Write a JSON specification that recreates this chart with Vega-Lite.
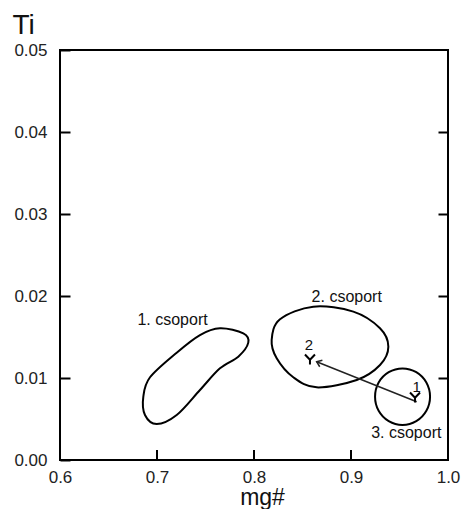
{
  "$schema": "https://vega.github.io/schema/vega-lite/v6.json",
  "width": 388,
  "height": 410,
  "autosize": {"type": "none"},
  "padding": {"left": 60, "top": 50, "right": 14, "bottom": 49},
  "background": "white",
  "config": {
    "view": {"stroke": "#000", "strokeWidth": 2},
    "font": "Liberation Sans",
    "axis": {"grid": false, "domain": false, "labelFont": "Liberation Sans", "titleFont": "Liberation Sans", "labelColor": "#222", "titleColor": "#111", "tickColor": "#000", "tickWidth": 2, "titleFontWeight": "normal"}
  },
  "datasets": {
    "outlines": [
      {"group": "1", "order": 1, "x": 0.7649, "y": 0.01606},
      {"group": "1", "order": 2, "x": 0.7890, "y": 0.01545},
      {"group": "1", "order": 3, "x": 0.7941, "y": 0.01431},
      {"group": "1", "order": 4, "x": 0.7838, "y": 0.01260},
      {"group": "1", "order": 5, "x": 0.7649, "y": 0.01118},
      {"group": "1", "order": 6, "x": 0.7443, "y": 0.00854},
      {"group": "1", "order": 7, "x": 0.7203, "y": 0.00549},
      {"group": "1", "order": 8, "x": 0.6997, "y": 0.00439},
      {"group": "1", "order": 9, "x": 0.6876, "y": 0.00549},
      {"group": "1", "order": 10, "x": 0.6859, "y": 0.00772},
      {"group": "1", "order": 11, "x": 0.6928, "y": 0.01009},
      {"group": "1", "order": 12, "x": 0.7203, "y": 0.01309},
      {"group": "1", "order": 13, "x": 0.7443, "y": 0.01524},
      {"group": "2", "order": 1, "x": 0.8182, "y": 0.01463},
      {"group": "2", "order": 2, "x": 0.8268, "y": 0.01716},
      {"group": "2", "order": 3, "x": 0.8611, "y": 0.01870},
      {"group": "2", "order": 4, "x": 0.9024, "y": 0.01809},
      {"group": "2", "order": 5, "x": 0.9299, "y": 0.01606},
      {"group": "2", "order": 6, "x": 0.9385, "y": 0.01382},
      {"group": "2", "order": 7, "x": 0.9299, "y": 0.01159},
      {"group": "2", "order": 8, "x": 0.9059, "y": 0.00976},
      {"group": "2", "order": 9, "x": 0.8646, "y": 0.00886},
      {"group": "2", "order": 10, "x": 0.8405, "y": 0.01009},
      {"group": "2", "order": 11, "x": 0.8234, "y": 0.01240},
      {"group": "3", "order": 1, "x": 0.9815, "y": 0.00772},
      {"group": "3", "order": 2, "x": 0.9777, "y": 0.00945},
      {"group": "3", "order": 3, "x": 0.9673, "y": 0.01071},
      {"group": "3", "order": 4, "x": 0.9531, "y": 0.01117},
      {"group": "3", "order": 5, "x": 0.9389, "y": 0.01071},
      {"group": "3", "order": 6, "x": 0.9285, "y": 0.00945},
      {"group": "3", "order": 7, "x": 0.9248, "y": 0.00772},
      {"group": "3", "order": 8, "x": 0.9285, "y": 0.00600},
      {"group": "3", "order": 9, "x": 0.9389, "y": 0.00473},
      {"group": "3", "order": 10, "x": 0.9531, "y": 0.00427},
      {"group": "3", "order": 11, "x": 0.9673, "y": 0.00473},
      {"group": "3", "order": 12, "x": 0.9777, "y": 0.00600}
    ],
    "arrow": [
      {"x": 0.9677, "y": 0.00711, "x2": 0.8646, "y2": 0.01199}
    ],
    "xticks": [
      {"x": 0.7},
      {"x": 0.8},
      {"x": 0.9}
    ],
    "markers": [
      {"id": "1", "x": 0.9660, "y": 0.00762},
      {"id": "2", "x": 0.8577, "y": 0.01226}
    ],
    "labels": [
      {"kind": "group", "text": "1. csoport", "x": 0.7160, "y": 0.01707},
      {"kind": "group", "text": "2. csoport", "x": 0.8956, "y": 0.01982},
      {"kind": "group", "text": "3. csoport", "x": 0.9570, "y": 0.00326},
      {"kind": "point", "text": "2", "x": 0.8567, "y": 0.01402},
      {"kind": "point", "text": "1", "x": 0.9677, "y": 0.00896}
    ]
  },
  "resolve": {"axis": {"y": "independent", "x": "independent"}},
  "layer": [
    {
      "data": {"name": "outlines"},
      "mark": {"type": "line", "interpolate": "cardinal-closed", "stroke": "#000", "strokeWidth": 2},
      "encoding": {
        "x": {"field": "x", "type": "quantitative", "scale": {"domain": [0.6, 1.0], "nice": false, "zero": false},
          "axis": {"orient": "bottom", "values": [0.6, 0.7, 0.8, 0.9, 1.0], "format": ".1f", "ticks": false, "labelPadding": 9, "labelFontSize": 17, "labelFlush": false,
            "title": "mg#", "titleFontSize": 23, "titleX": 202, "titleY": 44, "titleBaseline": "alphabetic", "titleAlign": "center"}},
        "y": {"field": "y", "type": "quantitative", "scale": {"domain": [0, 0.05], "nice": false, "zero": false},
          "axis": {"orient": "left", "values": [0, 0.01, 0.02, 0.03, 0.04, 0.05], "format": ".2f", "tickSize": -10, "labelPadding": 23, "labelFontSize": 17, "labelFlush": false,
            "title": "Ti", "titleFontSize": 28, "titleAngle": 0, "titleX": -48, "titleY": -17, "titleAlign": "left", "titleBaseline": "alphabetic"}},
        "detail": {"field": "group"},
        "order": {"field": "order", "type": "quantitative"}
      }
    },
    {
      "data": {"name": "arrow"},
      "mark": {"type": "rule", "stroke": "#222", "strokeWidth": 1.5},
      "encoding": {
        "x": {"field": "x", "type": "quantitative", "axis": null},
        "y": {"field": "y", "type": "quantitative", "axis": {"orient": "right", "values": [0.01, 0.02, 0.03, 0.04], "labels": false, "tickSize": -10, "title": null}},
        "x2": {"field": "x2"},
        "y2": {"field": "y2"}
      }
    },
    {
      "data": {"name": "xticks"},
      "mark": {"type": "rule", "stroke": "#000", "strokeWidth": 2},
      "encoding": {
        "x": {"field": "x", "type": "quantitative", "axis": null},
        "y": {"datum": 0, "type": "quantitative", "axis": null},
        "y2": {"datum": 0.00122}
      }
    },
    {
      "data": {"name": "arrow"},
      "mark": {"type": "point", "shape": "M-1,-0.75L0,0L-1,0.75", "size": 90, "filled": false, "stroke": "#222", "strokeWidth": 1.5, "angle": 202, "opacity": 1},
      "encoding": {
        "x": {"field": "x2", "type": "quantitative", "axis": null},
        "y": {"field": "y2", "type": "quantitative", "axis": null}
      }
    },
    {
      "data": {"name": "markers"},
      "mark": {"type": "point", "shape": "M-1,-1L0,0.05L1,-1M0,0.05L0,1", "size": 100, "filled": false, "stroke": "#000", "strokeWidth": 2, "opacity": 1},
      "encoding": {
        "x": {"field": "x", "type": "quantitative", "axis": null},
        "y": {"field": "y", "type": "quantitative", "axis": null}
      }
    },
    {
      "data": {"name": "labels"},
      "transform": [{"filter": "datum.kind === 'group'"}],
      "mark": {"type": "text", "fontSize": 16, "font": "Liberation Sans", "color": "#111", "baseline": "middle", "align": "center"},
      "encoding": {
        "x": {"field": "x", "type": "quantitative", "axis": null},
        "y": {"field": "y", "type": "quantitative", "axis": null},
        "text": {"field": "text"}
      }
    },
    {
      "data": {"name": "labels"},
      "transform": [{"filter": "datum.kind === 'point'"}],
      "mark": {"type": "text", "fontSize": 15, "font": "Liberation Sans", "color": "#111", "baseline": "middle", "align": "center"},
      "encoding": {
        "x": {"field": "x", "type": "quantitative", "axis": null},
        "y": {"field": "y", "type": "quantitative", "axis": null},
        "text": {"field": "text"}
      }
    }
  ]
}
